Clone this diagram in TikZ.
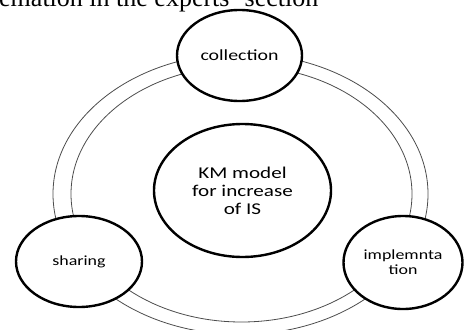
\documentclass[tikz,border=0pt]{standalone}
\usepackage{fontspec}
\setmainfont{Liberation Serif}
\newfontfamily\labelfont[FakeStretch=1.28]{Carlito}
\usetikzlibrary{shapes.geometric}
\begin{document}
\begin{tikzpicture}[x=1pt,y=-1pt,
  ringline/.style={draw=black!70,line width=0.8pt},
  bubble/.style={ellipse,draw=black,fill=white,line width=2.4pt,inner sep=0pt,
    align=center,font=\labelfont\fontsize{14}{15}\selectfont},
  hub/.style={bubble,font=\labelfont\fontsize{16.5}{18}\selectfont}]
\useasboundingbox (0,0) rectangle (465,329);
\clip (0,0) rectangle (465,329);
% running text of the page above the figure
\node[anchor=base west,inner sep=0pt,font=\fontsize{26}{28}\selectfont] (caption) at (-1,6.5) {emation in the experts' section};
% double ring linking the three stages
\node[ellipse,ringline,minimum width=375pt,minimum height=281pt,inner sep=0pt] (outer) at (240.5,194) {};
\node[ellipse,ringline,minimum width=341pt,minimum height=256pt,inner sep=0pt] (inner) at (241.5,194) {};
% stages and central model
\node[hub,minimum width=177pt,minimum height=133pt] (km) at (242.5,190.5) {KM model\\for increase\\of IS};
\node[bubble,font=\labelfont\fontsize{15.5}{17}\selectfont,minimum width=125pt,minimum height=91pt] (collection) at (239.5,55.5) {collection};
\node[bubble,minimum width=126pt,minimum height=91pt] (sharing) at (79,261.5) {sharing};
\node[bubble,minimum width=119pt,minimum height=93pt] (impl) at (403,262.5) {implemnta\\tion};
\end{tikzpicture}
\end{document}
